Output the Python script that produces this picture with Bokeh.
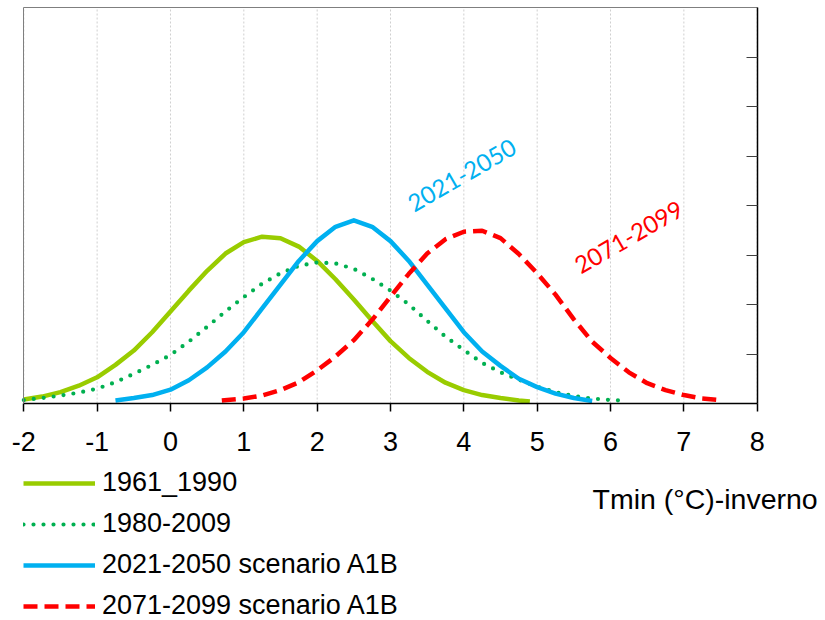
from bokeh.plotting import figure
from bokeh.models import Legend, LegendItem, Label, FixedTicker, LinearAxis
from bokeh.embed import file_html
from bokeh.resources import INLINE

# ---- data ----
x_ticks = [-2, -1, 0, 1, 2, 3, 4, 5, 6, 7, 8]
x_tick_labels = ["-2", "-1", "0", "1", "2", "3", "4", "5", "6", "7", "8"]
y_ticks = [1, 2, 3, 4, 5, 6, 7]
x_min, x_max = -2, 8
y_min, y_max = 0, 8

x_1961 = [-2.0, -1.75, -1.5, -1.25, -1.0, -0.75, -0.5, -0.25, 0.0, 0.25, 0.5, 0.75, 1.0, 1.25,
          1.5, 1.75, 2.0, 2.25, 2.5, 2.75, 3.0, 3.25, 3.5, 3.75, 4.0, 4.25, 4.5, 4.75, 4.9]
y_1961 = [0.08, 0.14, 0.23, 0.36, 0.53, 0.78, 1.07, 1.44, 1.86, 2.28, 2.68, 3.03, 3.26, 3.37,
          3.34, 3.17, 2.88, 2.51, 2.10, 1.67, 1.26, 0.92, 0.64, 0.42, 0.27, 0.17, 0.11, 0.06, 0.04]

x_1980 = [-2.0, -1.75, -1.5, -1.25, -1.0, -0.75, -0.5, -0.25, 0.0, 0.25, 0.5, 0.75, 1.0, 1.25,
          1.5, 1.75, 2.0, 2.25, 2.5, 2.75, 3.0, 3.25, 3.5, 3.75, 4.0, 4.25, 4.5, 4.75, 5.0,
          5.25, 5.5, 5.75, 6.0, 6.15]
y_1980 = [0.07, 0.11, 0.16, 0.22, 0.30, 0.43, 0.60, 0.78, 0.98, 1.25, 1.55, 1.86, 2.15, 2.42,
          2.63, 2.78, 2.85, 2.83, 2.72, 2.52, 2.28, 2.00, 1.67, 1.35, 1.08, 0.82, 0.63, 0.48, 0.34,
          0.23, 0.15, 0.10, 0.07, 0.06]

x_2021 = [-0.75, -0.5, -0.25, 0.0, 0.25, 0.5, 0.75, 1.0, 1.25, 1.5, 1.75, 2.0, 2.25, 2.5,
          2.75, 3.0, 3.25, 3.5, 3.75, 4.0, 4.25, 4.5, 4.75, 5.0, 5.25, 5.5, 5.75]
y_2021 = [0.06, 0.11, 0.17, 0.28, 0.47, 0.73, 1.05, 1.44, 1.92, 2.40, 2.88, 3.28, 3.57, 3.70,
          3.57, 3.28, 2.88, 2.40, 1.92, 1.44, 1.05, 0.76, 0.50, 0.33, 0.20, 0.11, 0.05]

x_2071 = [0.7, 1.0, 1.25, 1.5, 1.75, 2.0, 2.25, 2.5, 2.75, 3.0, 3.25, 3.5, 3.75, 4.0, 4.25,
          4.5, 4.75, 5.0, 5.25, 5.5, 5.75, 6.0, 6.25, 6.5, 6.75, 7.0, 7.25, 7.5]
y_2071 = [0.06, 0.10, 0.16, 0.27, 0.43, 0.67, 0.95, 1.28, 1.69, 2.16, 2.62, 3.03, 3.32, 3.47, 3.49,
          3.34, 3.02, 2.63, 2.20, 1.70, 1.25, 0.92, 0.63, 0.41, 0.27, 0.17, 0.10, 0.07]

series_labels = ["1961_1990", "1980-2009", "2021-2050 scenario A1B", "2071-2099 scenario A1B"]
series_colors = ["#99CC00", "#00B050", "#00B0F0", "#FF0000"]
x_title = "Tmin (°C)-inverno"

FONT = "Liberation Sans"

# ---- layout: the frame covers the whole canvas; the chart box sits inside it ----
W, H = 825, 620
box_left, box_right, box_top, box_bottom = 23.3, 756.7, 7.0, 403.0
sx = (box_right - box_left) / (x_max - x_min)
sy = (box_bottom - box_top) / (y_max - y_min)
xr = (x_min - box_left / sx, x_max + (W - box_right) / sx)
yr = (y_min - (H - box_bottom) / sy, y_max + box_top / sy)

p = figure(width=W, height=H, x_range=xr, y_range=yr,
           output_backend="svg", toolbar_location=None,
           x_axis_location=None, y_axis_location=None,
           min_border_left=0, min_border_right=0, min_border_top=0, min_border_bottom=0)
p.background_fill_color = "white"
p.border_fill_color = "white"
p.outline_line_color = None
p.grid.visible = False

# vertical dotted grid lines, only inside the chart box
p.segment(x0=x_ticks, y0=[y_min] * len(x_ticks), x1=x_ticks, y1=[y_max] * len(x_ticks),
          line_color="#cfcfcf", line_dash="2 2", line_width=1)

# left and top border (grey)
left_ax = LinearAxis(fixed_location=x_min, bounds=(y_min, y_max), ticker=FixedTicker(ticks=[]),
                     axis_line_color="#7f7f7f", axis_line_width=1,
                     major_tick_line_color=None, minor_tick_line_color=None)
p.add_layout(left_ax, "left")
top_ax = LinearAxis(fixed_location=y_max, bounds=(x_min, x_max), ticker=FixedTicker(ticks=[]),
                    axis_line_color="#7f7f7f", axis_line_width=1,
                    major_tick_line_color=None, minor_tick_line_color=None)
p.add_layout(top_ax, "above")

# bottom axis at y = 0
xa = LinearAxis(fixed_location=y_min, bounds=(x_min, x_max), ticker=FixedTicker(ticks=x_ticks))
xa.major_label_overrides = {t: lab for t, lab in zip(x_ticks, x_tick_labels)}
xa.axis_line_color = "black"
xa.axis_line_width = 1.5
xa.major_tick_line_color = "black"
xa.major_tick_line_width = 1.5
xa.major_tick_out = 8
xa.major_tick_in = 0
xa.minor_tick_line_color = None
xa.major_label_standoff = 20
xa.major_label_text_font = FONT
xa.major_label_text_font_size = "27px"
xa.major_label_text_color = "black"
p.add_layout(xa, "below")

# right axis at x = 8, ticks pointing inwards, no labels
ya = LinearAxis(fixed_location=x_max, bounds=(y_min, y_max), ticker=FixedTicker(ticks=y_ticks))
ya.major_label_overrides = {t: "" for t in y_ticks}
ya.axis_line_color = "black"
ya.axis_line_width = 1.5
ya.major_tick_line_color = "#404040"
ya.major_tick_line_width = 1
ya.major_tick_in = 11
ya.major_tick_out = 0
ya.minor_tick_line_color = None
p.add_layout(ya, "right")

r1 = p.line(x_1961, y_1961, line_color=series_colors[0], line_width=4.5, line_join="round")
r2 = p.line(x_1980, y_1980, line_color=series_colors[1], line_width=4.2, line_dash="0 10",
            line_cap="round")
r3 = p.line(x_2021, y_2021, line_color=series_colors[2], line_width=4.5, line_join="round")
r4 = p.line(x_2071, y_2071, line_color=series_colors[3], line_width=4.5, line_dash="14 7")

p.add_layout(Label(x=3.975, y=4.61, text="2021-2050", angle=0.5236,
                   text_color=series_colors[2], text_font="Lato", text_font_size="24px",
                   text_align="center", text_baseline="middle"))
p.add_layout(Label(x=6.25, y=3.36, text="2071-2099", angle=0.5236,
                   text_color=series_colors[3], text_font="Lato", text_font_size="24px",
                   text_align="center", text_baseline="middle"))

legend = Legend(items=[LegendItem(label=series_labels[0], renderers=[r1]),
                       LegendItem(label=series_labels[1], renderers=[r2]),
                       LegendItem(label=series_labels[2], renderers=[r3]),
                       LegendItem(label=series_labels[3], renderers=[r4])],
                location=(23, -1), orientation="vertical",
                glyph_width=72, glyph_height=30, label_height=30, spacing=10,
                padding=0, margin=0, label_standoff=7,
                border_line_color=None, background_fill_alpha=0,
                label_text_font=FONT, label_text_font_size="27px",
                label_text_color="black", label_text_baseline="middle")
p.add_layout(legend)

p.add_layout(Label(x=592, y=H - 498, x_units="screen", y_units="screen", text=x_title,
                   text_font=FONT, text_font_size="28.5px", text_color="black",
                   text_align="left", text_baseline="middle"))

open("out.html", "w").write(file_html(p, INLINE))
